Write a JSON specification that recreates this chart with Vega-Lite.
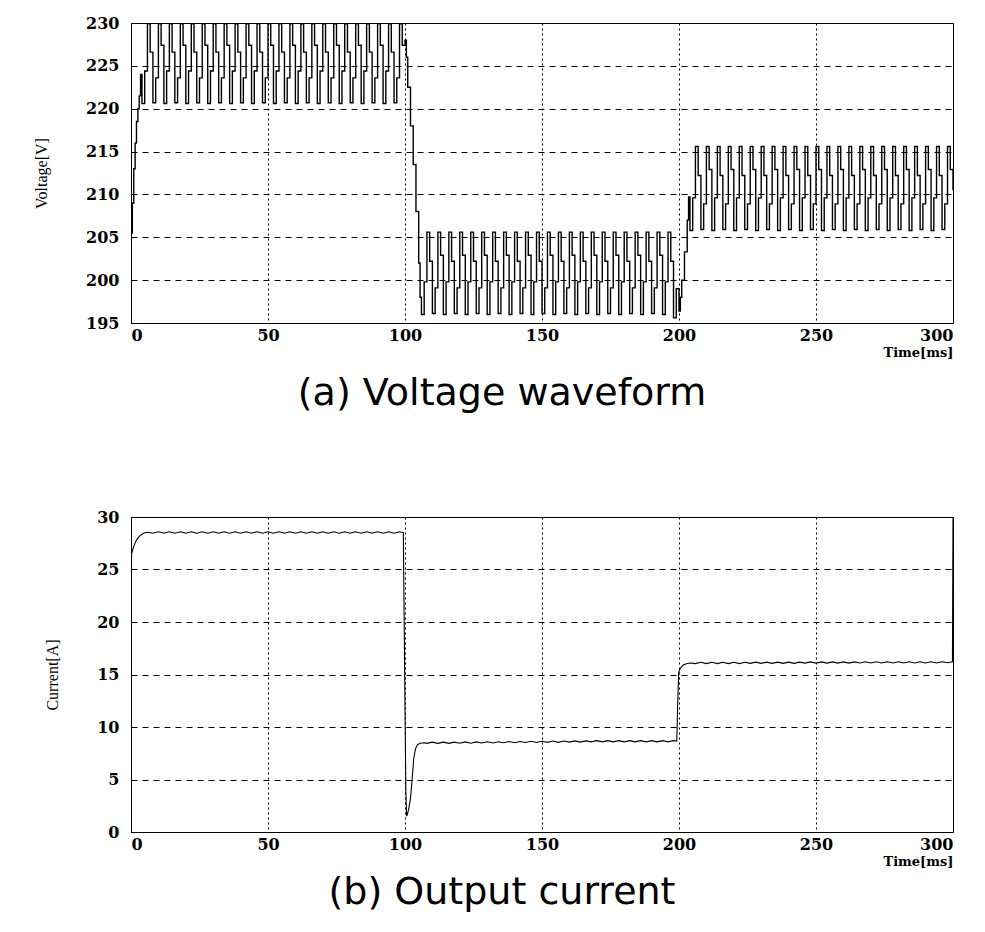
{
  "$schema": "https://vega.github.io/schema/vega-lite/v6.json",
  "background": "white",
  "padding": {"left": 33, "top": 14, "right": 5, "bottom": 5},
  "spacing": 94,
  "datasets": {
    "voltage": [
      {"t":0,"v":205.5},{"t":0.5,"v":209},{"t":1,"v":213},{"t":1.5,"v":216},{"t":2,"v":218.5},{"t":2.5,"v":220},{"t":3,"v":221.5},{"t":3.5,"v":224},
      {"t":4,"v":220.6},{"t":5,"v":224.4},{"t":6,"v":229.9},{"t":7,"v":226.6},
      {"t":8,"v":220.7},{"t":9,"v":223.6},{"t":10,"v":229.9},{"t":11,"v":227.4},
      {"t":12,"v":220.6},{"t":13,"v":224.4},{"t":14,"v":229.9},{"t":15,"v":226.6},
      {"t":16,"v":220.7},{"t":17,"v":223.6},{"t":18,"v":229.9},{"t":19,"v":227.4},
      {"t":20,"v":220.6},{"t":21,"v":224.4},{"t":22,"v":229.9},{"t":23,"v":226.6},
      {"t":24,"v":220.7},{"t":25,"v":223.6},{"t":26,"v":229.9},{"t":27,"v":227.4},
      {"t":28,"v":220.6},{"t":29,"v":224.4},{"t":30,"v":229.9},{"t":31,"v":226.6},
      {"t":32,"v":220.7},{"t":33,"v":223.6},{"t":34,"v":229.9},{"t":35,"v":227.4},
      {"t":36,"v":220.6},{"t":37,"v":224.4},{"t":38,"v":229.9},{"t":39,"v":226.6},
      {"t":40,"v":220.7},{"t":41,"v":223.6},{"t":42,"v":229.9},{"t":43,"v":227.4},
      {"t":44,"v":220.6},{"t":45,"v":224.4},{"t":46,"v":229.9},{"t":47,"v":226.6},
      {"t":48,"v":220.7},{"t":49,"v":223.6},{"t":50,"v":229.9},{"t":51,"v":227.4},
      {"t":52,"v":220.6},{"t":53,"v":224.4},{"t":54,"v":229.9},{"t":55,"v":226.6},
      {"t":56,"v":220.7},{"t":57,"v":223.6},{"t":58,"v":229.9},{"t":59,"v":227.4},
      {"t":60,"v":220.6},{"t":61,"v":224.4},{"t":62,"v":229.9},{"t":63,"v":226.6},
      {"t":64,"v":220.7},{"t":65,"v":223.6},{"t":66,"v":229.9},{"t":67,"v":227.4},
      {"t":68,"v":220.6},{"t":69,"v":224.4},{"t":70,"v":229.9},{"t":71,"v":226.6},
      {"t":72,"v":220.7},{"t":73,"v":223.6},{"t":74,"v":229.9},{"t":75,"v":227.4},
      {"t":76,"v":220.6},{"t":77,"v":224.4},{"t":78,"v":229.9},{"t":79,"v":226.6},
      {"t":80,"v":220.7},{"t":81,"v":223.6},{"t":82,"v":229.9},{"t":83,"v":227.4},
      {"t":84,"v":220.6},{"t":85,"v":224.4},{"t":86,"v":229.9},{"t":87,"v":226.6},
      {"t":88,"v":220.7},{"t":89,"v":223.6},{"t":90,"v":229.9},{"t":91,"v":227.4},
      {"t":92,"v":220.6},{"t":93,"v":224.4},{"t":94,"v":229.9},{"t":95,"v":226.6},
      {"t":96,"v":220.7},{"t":97,"v":223.6},{"t":98,"v":229.9},{"t":99,"v":227.4},
      {"t":100,"v":228},{"t":100.5,"v":226},{"t":101,"v":222.5},{"t":102,"v":218},{"t":103,"v":213.5},{"t":104,"v":208},{"t":105,"v":202},{"t":105.5,"v":198},
      {"t":106,"v":196},{"t":107,"v":199.8},{"t":108,"v":205.6},{"t":109,"v":202.2},
      {"t":110,"v":196.1},{"t":111,"v":199.1},{"t":112,"v":205.6},{"t":113,"v":202.9},
      {"t":114,"v":196},{"t":115,"v":199.8},{"t":116,"v":205.6},{"t":117,"v":202.2},
      {"t":118,"v":196.1},{"t":119,"v":199.1},{"t":120,"v":205.6},{"t":121,"v":202.9},
      {"t":122,"v":196},{"t":123,"v":199.8},{"t":124,"v":205.6},{"t":125,"v":202.2},
      {"t":126,"v":196.1},{"t":127,"v":199.1},{"t":128,"v":205.6},{"t":129,"v":202.9},
      {"t":130,"v":196},{"t":131,"v":199.8},{"t":132,"v":205.6},{"t":133,"v":202.2},
      {"t":134,"v":196.1},{"t":135,"v":199.1},{"t":136,"v":205.6},{"t":137,"v":202.9},
      {"t":138,"v":196},{"t":139,"v":199.8},{"t":140,"v":205.6},{"t":141,"v":202.2},
      {"t":142,"v":196.1},{"t":143,"v":199.1},{"t":144,"v":205.6},{"t":145,"v":202.9},
      {"t":146,"v":196},{"t":147,"v":199.8},{"t":148,"v":205.6},{"t":149,"v":202.2},
      {"t":150,"v":196.1},{"t":151,"v":199.1},{"t":152,"v":205.6},{"t":153,"v":202.9},
      {"t":154,"v":196},{"t":155,"v":199.8},{"t":156,"v":205.6},{"t":157,"v":202.2},
      {"t":158,"v":196.1},{"t":159,"v":199.1},{"t":160,"v":205.6},{"t":161,"v":202.9},
      {"t":162,"v":196},{"t":163,"v":199.8},{"t":164,"v":205.6},{"t":165,"v":202.2},
      {"t":166,"v":196.1},{"t":167,"v":199.1},{"t":168,"v":205.6},{"t":169,"v":202.9},
      {"t":170,"v":196},{"t":171,"v":199.8},{"t":172,"v":205.6},{"t":173,"v":202.2},
      {"t":174,"v":196.1},{"t":175,"v":199.1},{"t":176,"v":205.6},{"t":177,"v":202.9},
      {"t":178,"v":196},{"t":179,"v":199.8},{"t":180,"v":205.6},{"t":181,"v":202.2},
      {"t":182,"v":196.1},{"t":183,"v":199.1},{"t":184,"v":205.6},{"t":185,"v":202.9},
      {"t":186,"v":196},{"t":187,"v":199.8},{"t":188,"v":205.6},{"t":189,"v":202.2},
      {"t":190,"v":196.1},{"t":191,"v":199.1},{"t":192,"v":205.6},{"t":193,"v":202.9},
      {"t":194,"v":196},{"t":195,"v":199.8},{"t":196,"v":205.6},{"t":197,"v":202.2},
      {"t":198,"v":195.6},{"t":199,"v":199},{"t":200,"v":196.4},{"t":200.5,"v":198},{"t":201,"v":200},{"t":202,"v":203.3},{"t":203,"v":207},{"t":203.5,"v":209.7},
      {"t":204,"v":205.8},{"t":205,"v":209.6},{"t":206,"v":215.6},{"t":207,"v":212.2},
      {"t":208,"v":205.9},{"t":209,"v":208.9},{"t":210,"v":215.6},{"t":211,"v":212.9},
      {"t":212,"v":205.8},{"t":213,"v":209.6},{"t":214,"v":215.6},{"t":215,"v":212.2},
      {"t":216,"v":205.9},{"t":217,"v":208.9},{"t":218,"v":215.6},{"t":219,"v":212.9},
      {"t":220,"v":205.8},{"t":221,"v":209.6},{"t":222,"v":215.6},{"t":223,"v":212.2},
      {"t":224,"v":205.9},{"t":225,"v":208.9},{"t":226,"v":215.6},{"t":227,"v":212.9},
      {"t":228,"v":205.8},{"t":229,"v":209.6},{"t":230,"v":215.6},{"t":231,"v":212.2},
      {"t":232,"v":205.9},{"t":233,"v":208.9},{"t":234,"v":215.6},{"t":235,"v":212.9},
      {"t":236,"v":205.8},{"t":237,"v":209.6},{"t":238,"v":215.6},{"t":239,"v":212.2},
      {"t":240,"v":205.9},{"t":241,"v":208.9},{"t":242,"v":215.6},{"t":243,"v":212.9},
      {"t":244,"v":205.8},{"t":245,"v":209.6},{"t":246,"v":215.6},{"t":247,"v":212.2},
      {"t":248,"v":205.9},{"t":249,"v":208.9},{"t":250,"v":215.6},{"t":251,"v":212.9},
      {"t":252,"v":205.8},{"t":253,"v":209.6},{"t":254,"v":215.6},{"t":255,"v":212.2},
      {"t":256,"v":205.9},{"t":257,"v":208.9},{"t":258,"v":215.6},{"t":259,"v":212.9},
      {"t":260,"v":205.8},{"t":261,"v":209.6},{"t":262,"v":215.6},{"t":263,"v":212.2},
      {"t":264,"v":205.9},{"t":265,"v":208.9},{"t":266,"v":215.6},{"t":267,"v":212.9},
      {"t":268,"v":205.8},{"t":269,"v":209.6},{"t":270,"v":215.6},{"t":271,"v":212.2},
      {"t":272,"v":205.9},{"t":273,"v":208.9},{"t":274,"v":215.6},{"t":275,"v":212.9},
      {"t":276,"v":205.8},{"t":277,"v":209.6},{"t":278,"v":215.6},{"t":279,"v":212.2},
      {"t":280,"v":205.9},{"t":281,"v":208.9},{"t":282,"v":215.6},{"t":283,"v":212.9},
      {"t":284,"v":205.8},{"t":285,"v":209.6},{"t":286,"v":215.6},{"t":287,"v":212.2},
      {"t":288,"v":205.9},{"t":289,"v":208.9},{"t":290,"v":215.6},{"t":291,"v":212.9},
      {"t":292,"v":205.8},{"t":293,"v":209.6},{"t":294,"v":215.6},{"t":295,"v":212.2},
      {"t":296,"v":205.9},{"t":297,"v":208.9},{"t":298,"v":215.6},{"t":299,"v":212.9},
      {"t":300,"v":210.5}
    ],
    "current": [
      {"t":0,"i":16},{"t":0.2,"i":26.5},{"t":1,"i":27.2},{"t":2,"i":27.8},{"t":3,"i":28.15},{"t":4,"i":28.35},{"t":5,"i":28.5},{"t":6,"i":28.55},
      {"t":8,"i":28.45},{"t":10,"i":28.6},{"t":12,"i":28.45},{"t":14,"i":28.6},{"t":16,"i":28.45},{"t":18,"i":28.6},{"t":20,"i":28.45},{"t":22,"i":28.6},{"t":24,"i":28.45},{"t":26,"i":28.6},
      {"t":28,"i":28.45},{"t":30,"i":28.6},{"t":32,"i":28.45},{"t":34,"i":28.6},{"t":36,"i":28.45},{"t":38,"i":28.6},{"t":40,"i":28.45},{"t":42,"i":28.6},{"t":44,"i":28.45},{"t":46,"i":28.6},
      {"t":48,"i":28.45},{"t":50,"i":28.6},{"t":52,"i":28.45},{"t":54,"i":28.6},{"t":56,"i":28.45},{"t":58,"i":28.6},{"t":60,"i":28.45},{"t":62,"i":28.6},{"t":64,"i":28.45},{"t":66,"i":28.6},
      {"t":68,"i":28.45},{"t":70,"i":28.6},{"t":72,"i":28.45},{"t":74,"i":28.6},{"t":76,"i":28.45},{"t":78,"i":28.6},{"t":80,"i":28.45},{"t":82,"i":28.6},{"t":84,"i":28.45},{"t":86,"i":28.6},
      {"t":88,"i":28.45},{"t":90,"i":28.6},{"t":92,"i":28.45},{"t":94,"i":28.6},{"t":96,"i":28.45},{"t":98,"i":28.6},
      {"t":99.4,"i":28.5},{"t":99.7,"i":20},{"t":100,"i":12},{"t":100.3,"i":4},{"t":100.6,"i":1.5},{"t":101,"i":1.8},{"t":101.5,"i":2.4},{"t":102,"i":3.2},{"t":102.6,"i":5},{"t":103.2,"i":7},{"t":103.8,"i":7.9},{"t":104.5,"i":8.3},{"t":105.5,"i":8.45},{"t":107,"i":8.5},
      {"t":108,"i":8.44},{"t":110,"i":8.56},{"t":112,"i":8.44},{"t":114,"i":8.56},{"t":116,"i":8.44},{"t":118,"i":8.56},{"t":120,"i":8.46},{"t":122,"i":8.58},{"t":124,"i":8.46},{"t":126,"i":8.58},
      {"t":128,"i":8.48},{"t":130,"i":8.6},{"t":132,"i":8.48},{"t":134,"i":8.6},{"t":136,"i":8.5},{"t":138,"i":8.62},{"t":140,"i":8.5},{"t":142,"i":8.62},{"t":144,"i":8.52},{"t":146,"i":8.64},
      {"t":148,"i":8.52},{"t":150,"i":8.64},{"t":152,"i":8.54},{"t":154,"i":8.66},{"t":156,"i":8.54},{"t":158,"i":8.66},{"t":160,"i":8.56},{"t":162,"i":8.68},{"t":164,"i":8.56},{"t":166,"i":8.68},
      {"t":168,"i":8.58},{"t":170,"i":8.7},{"t":172,"i":8.58},{"t":174,"i":8.7},{"t":176,"i":8.58},{"t":178,"i":8.7},{"t":180,"i":8.58},{"t":182,"i":8.7},{"t":184,"i":8.58},{"t":186,"i":8.7},
      {"t":188,"i":8.58},{"t":190,"i":8.7},{"t":192,"i":8.58},{"t":194,"i":8.7},{"t":196,"i":8.58},{"t":198,"i":8.7},
      {"t":199.2,"i":8.65},{"t":199.5,"i":12},{"t":199.9,"i":15.2},{"t":200.5,"i":15.6},{"t":201.5,"i":15.9},{"t":203,"i":16.05},{"t":204,"i":16.1},
      {"t":206,"i":16.04},{"t":208,"i":16.16},{"t":210,"i":16.04},{"t":212,"i":16.16},{"t":214,"i":16.04},{"t":216,"i":16.16},{"t":218,"i":16.04},{"t":220,"i":16.16},{"t":222,"i":16.04},{"t":224,"i":16.16},
      {"t":226,"i":16.06},{"t":228,"i":16.18},{"t":230,"i":16.06},{"t":232,"i":16.18},{"t":234,"i":16.06},{"t":236,"i":16.18},{"t":238,"i":16.06},{"t":240,"i":16.18},{"t":242,"i":16.06},{"t":244,"i":16.18},
      {"t":246,"i":16.08},{"t":248,"i":16.2},{"t":250,"i":16.08},{"t":252,"i":16.2},{"t":254,"i":16.08},{"t":256,"i":16.2},{"t":258,"i":16.08},{"t":260,"i":16.2},{"t":262,"i":16.08},{"t":264,"i":16.2},
      {"t":266,"i":16.1},{"t":268,"i":16.22},{"t":270,"i":16.1},{"t":272,"i":16.22},{"t":274,"i":16.1},{"t":276,"i":16.22},{"t":278,"i":16.1},{"t":280,"i":16.22},{"t":282,"i":16.1},{"t":284,"i":16.22},
      {"t":286,"i":16.1},{"t":288,"i":16.22},{"t":290,"i":16.1},{"t":292,"i":16.22},{"t":294,"i":16.1},{"t":296,"i":16.22},{"t":298,"i":16.12},
      {"t":299.8,"i":16.2},{"t":300,"i":30}
    ]
  },
  "vconcat": [
    {
      "width": 822,
      "height": 300,
      "title": {"text": "(a) Voltage waveform", "orient": "bottom", "anchor": "middle", "dx": -40, "offset": 16, "font": "DejaVu Sans", "fontSize": 38, "fontWeight": "normal", "color": "black"},
      "data": {"name": "voltage"},
      "mark": {"type": "line", "interpolate": "step-after", "color": "black", "strokeWidth": 1.4, "clip": true},
      "encoding": {
        "x": {"field": "t", "type": "quantitative", "scale": {"domain": [0, 300], "nice": false},
              "axis": {"values": [0, 50, 100, 150, 200, 250, 300], "title": "Time[ms]", "titleAnchor": "end", "titlePadding": 3}},
        "y": {"field": "v", "type": "quantitative", "scale": {"domain": [195, 230], "nice": false, "zero": false},
              "axis": {"values": [195, 200, 205, 210, 215, 220, 225, 230], "title": "Voltage[V]", "titlePadding": 36}}
      }
    },
    {
      "width": 822,
      "height": 315,
      "title": {"text": "(b) Output current", "orient": "bottom", "anchor": "middle", "dx": -40, "offset": 6, "font": "DejaVu Sans", "fontSize": 38, "fontWeight": "normal", "color": "black"},
      "data": {"name": "current"},
      "mark": {"type": "line", "interpolate": "linear", "color": "black", "strokeWidth": 1.1, "clip": true},
      "encoding": {
        "x": {"field": "t", "type": "quantitative", "scale": {"domain": [0, 300], "nice": false},
              "axis": {"values": [0, 50, 100, 150, 200, 250, 300], "title": "Time[ms]", "titleAnchor": "end", "titlePadding": 3}},
        "y": {"field": "i", "type": "quantitative", "scale": {"domain": [0, 30], "nice": false},
              "axis": {"values": [0, 5, 10, 15, 20, 25, 30], "title": "Current[A]", "titlePadding": 36}}
      }
    }
  ],
  "config": {
    "view": {"stroke": "black", "strokeWidth": 1},
    "axis": {
      "domainColor": "black", "domainWidth": 1,
      "gridColor": "black", "gridOpacity": 1, "gridWidth": 1,
      "ticks": false,
      "labelFont": "DejaVu Serif", "labelFontWeight": "bold", "labelFontSize": 16, "labelColor": "black",
      "titleColor": "black"
    },
    "axisX": {"gridDash": [2, 3], "labelPadding": 4, "titleFont": "DejaVu Serif", "titleFontWeight": "bold", "titleFontSize": 13},
    "axisY": {"gridDash": [6, 5], "labelPadding": 12, "titleFont": "Liberation Serif", "titleFontWeight": "normal", "titleFontSize": 16}
  }
}
